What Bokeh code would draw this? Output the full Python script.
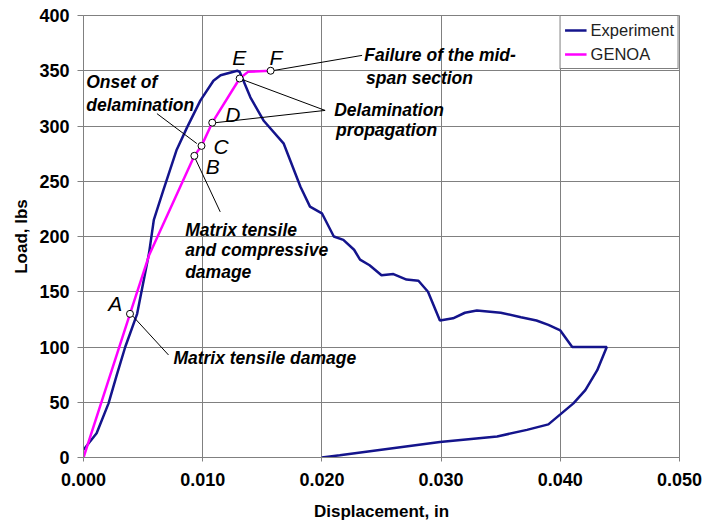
from bokeh.plotting import figure
from bokeh.models import Range1d, FixedTicker, Legend, LegendItem, NumeralTickFormatter
from bokeh.core.properties import value
from bokeh.embed import file_html
from bokeh.resources import INLINE

# Experiment curve (displacement in, load lbs)
exp_x = [0.0000, 0.0011, 0.0021, 0.0028, 0.0035, 0.0045, 0.0055, 0.0059, 0.0067, 0.0078,
         0.0087, 0.0098, 0.0109, 0.0115, 0.0129, 0.0131, 0.0140, 0.0151, 0.0168, 0.0182,
         0.0190, 0.0200, 0.0210, 0.0218, 0.0227, 0.0232, 0.0240, 0.0250, 0.0260, 0.0271,
         0.0281, 0.0289, 0.0299, 0.0310, 0.0320, 0.0330, 0.0350, 0.0367, 0.0380, 0.0390,
         0.0400, 0.0410, 0.0439, 0.0431, 0.0421, 0.0411, 0.0400, 0.0390, 0.0372, 0.0347,
         0.0299, 0.0215, 0.0200]
exp_y = [7, 22, 49, 75, 100, 130, 185, 215, 242, 278,
         299, 323, 341, 346, 350, 349, 326, 305, 284, 245,
         227, 221, 200, 197, 188, 179, 174, 165, 166, 161,
         160, 150, 124, 126, 131, 133, 131, 127, 124, 120,
         115, 100, 100, 79, 61, 49, 39, 30, 25, 19,
         14, 2, 0]

# GENOA prediction
gen_x = [0.0, 0.0039, 0.0055, 0.0093, 0.0099, 0.0108, 0.0131, 0.0138, 0.0157]
gen_y = [0, 130, 183, 273, 282, 303, 343, 349, 350]

# Damage event markers
mark_x = [0.0039, 0.0093, 0.0099, 0.0108, 0.0131, 0.0157]
mark_y = [130, 273, 282, 303, 343, 350]
letters = ["A", "B", "C", "D", "E", "F"]
letter_x = [0.00267, 0.01084, 0.01154, 0.01252, 0.01306, 0.01615]
letter_y = [139.5, 263, 281.8, 310.1, 362, 362.3]

# Annotation texts
ann_text = ["Onset of", "delamination",
            "Matrix tensile", "and compressive", "damage",
            "Matrix tensile damage",
            "Delamination", "propagation",
            "Failure of the mid-", "span section"]
ann_x = [0.00023, 0.00023, 0.00853, 0.00853, 0.00853, 0.00754, 0.02103, 0.02118, 0.02355, 0.02370]
ann_y = [339.5, 318.7, 205.6, 187.5, 168.0, 89.8, 314.2, 296.0, 363.9, 343.1]

# Leader lines
lead_x0 = [0.00616, 0.00929, 0.00392, 0.02027, 0.02027, 0.01566]
lead_y0 = [311.2, 272.5, 130.5, 314.1, 314.1, 349.7]
lead_x1 = [0.00951, 0.01147, 0.00713, 0.01314, 0.01082, 0.02337]
lead_y1 = [284.1, 222.3, 92.8, 342.8, 302.7, 363.9]

x_ticks = [0.0, 0.01, 0.02, 0.03, 0.04, 0.05]
y_ticks = [0, 50, 100, 150, 200, 250, 300, 350, 400]

FONT = "Liberation Sans"
GRID = "#808080"

p = figure(width=702, height=523, output_backend="svg", toolbar_location=None,
           x_range=Range1d(0, 0.05), y_range=Range1d(0, 400),
           min_border_left=83, min_border_right=23, min_border_top=15, min_border_bottom=65)
p.background_fill_color = "white"
p.border_fill_color = "white"
p.outline_line_color = GRID
p.outline_line_width = 1

for ax in (p.xaxis[0], p.yaxis[0]):
    ax.axis_line_color = GRID
    ax.major_tick_line_color = GRID
    ax.minor_tick_line_color = None
    ax.major_label_text_font = FONT
    ax.major_label_text_font_style = "bold"
    ax.major_label_text_font_size = "18px"
    ax.major_label_text_color = "black"
    ax.axis_label_text_font = FONT
    ax.axis_label_text_font_style = "bold"
    ax.axis_label_text_font_size = "17px"
    ax.axis_label_text_color = "black"

p.xaxis.ticker = FixedTicker(ticks=x_ticks)
p.yaxis.ticker = FixedTicker(ticks=y_ticks)
p.xaxis.formatter = NumeralTickFormatter(format="0.000")
p.xaxis.axis_label = "Displacement, in"
p.yaxis.axis_label = "Load, lbs"
p.xaxis.major_tick_out = 4
p.xaxis.major_tick_in = 0
p.xaxis.major_label_standoff = 11
p.xaxis.axis_label_standoff = 13
p.yaxis.major_tick_out = 6
p.yaxis.major_tick_in = 0
p.yaxis.major_label_standoff = 8
p.yaxis.axis_label_standoff = 5

p.xgrid.grid_line_color = GRID
p.ygrid.grid_line_color = GRID
p.xgrid.grid_line_width = 1
p.ygrid.grid_line_width = 1

exp_r = p.line(exp_x, exp_y, line_color="#14148c", line_width=2.5)
gen_r = p.line(gen_x, gen_y, line_color="#ff00ff", line_width=2.5)

p.segment(lead_x0, lead_y0, lead_x1, lead_y1, line_color="black", line_width=1)
p.scatter(mark_x, mark_y, size=7, marker="circle", fill_color="white",
          line_color="black", line_width=1)

p.text(ann_x, ann_y, text=ann_text, text_font=value(FONT), text_font_style="bold italic",
       text_font_size="17.5px", text_baseline="middle", text_align="left", text_color="black")
p.text(letter_x, letter_y, text=letters, text_font=value(FONT), text_font_style="italic",
       text_font_size="21px", text_baseline="middle", text_align="center", text_color="black")

legend = Legend(items=[LegendItem(label="Experiment", renderers=[exp_r]),
                       LegendItem(label="GENOA", renderers=[gen_r])],
                location="top_right", margin=0, padding=4, spacing=4,
                label_height=20, glyph_height=20, glyph_width=22, label_standoff=4,
                border_line_color="black", border_line_width=1,
                background_fill_color="white", background_fill_alpha=1.0,
                label_text_font=FONT, label_text_font_size="16.5px", label_text_color="#222222")
p.add_layout(legend)

open("out.html", "w").write(file_html(p, INLINE))
